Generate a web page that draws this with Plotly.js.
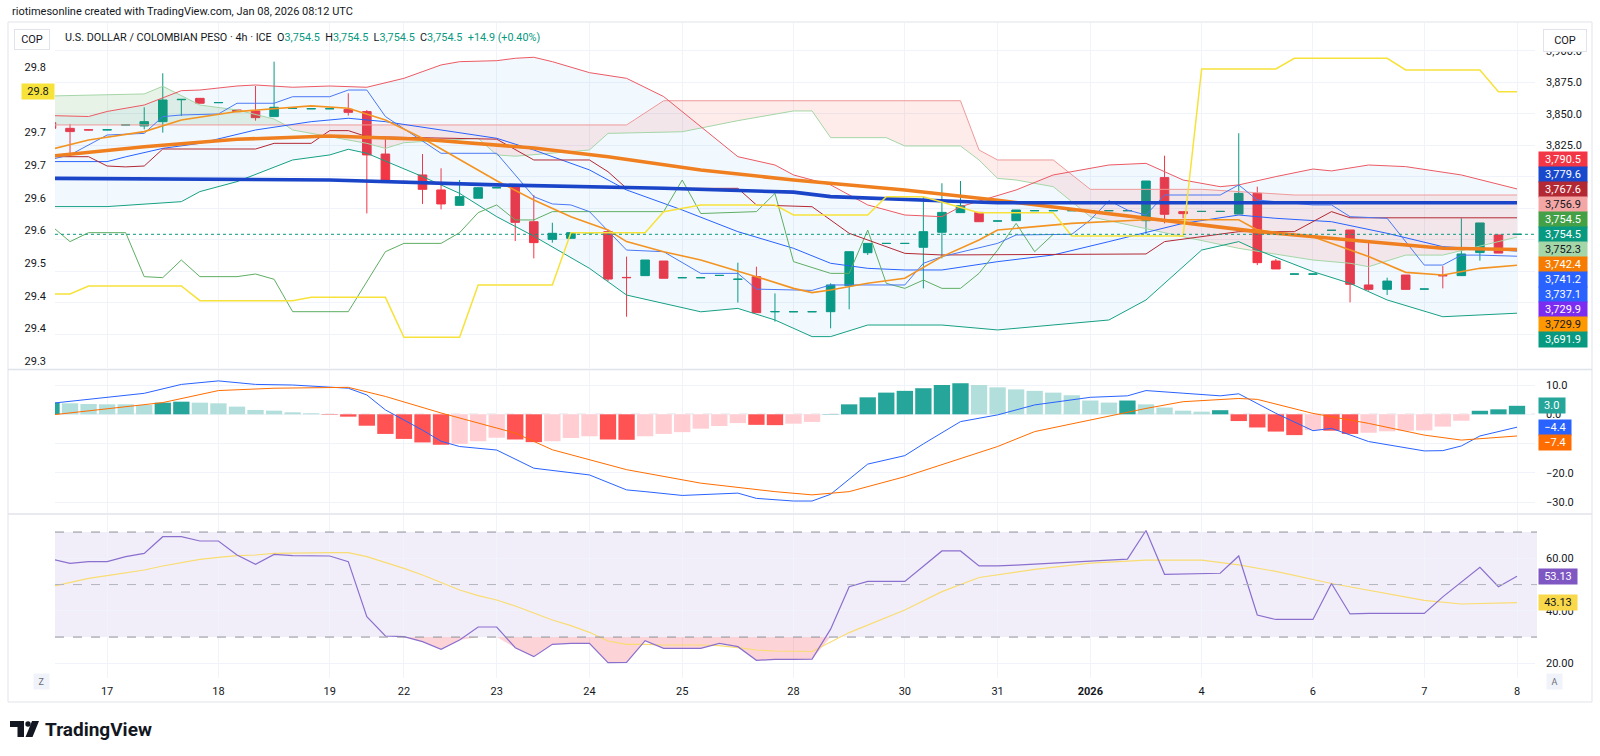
<!DOCTYPE html>
<html><head><meta charset="utf-8">
<script src="https://cdn.plot.ly/plotly-3.0.1.min.js"></script>
<style>html,body{margin:0;padding:0;background:#fff;} #chart{width:1600px;height:756px;}</style>
</head><body><div id="chart"></div>
<script>
// ---------------- DATA ----------------
const openP = [3843.1,3838.6,3837.5,3837.3,3841.2,3840.5,3843.9,3861.3,3862.4,3858.9,
 3853.2,3852.4,3847.9,3854.4,3854.1,3854.1,3853.7,3851.9,3818.2,3796.5,
 3801.6,3789.7,3777.5,3783.1,3791.4,3792.3,3764.5,3750.5,3751.3,3755.7,
 3756.6,3720.3,3721.7,3733.3,3720.0,3720.0,3721.8,3718.7,3720.9,3693.0,
 3693.0,3693.0,3693.1,3713.7,3739.9,3747.2,3747.2,3744.2,3756.1,3771.7,
 3771.9,3765.0,3765.3,3773.2,3773.2,3773.2,3773.2,3773.2,3773.2,3765.3,
 3799.5,3772.5,3772.6,3772.6,3770.6,3787.0,3733.3,3722.9,3722.9,3757.6,
 3757.9,3714.3,3710.8,3722.2,3711.0,3721.8,3721.7,3740.0,3754.0,3754.5];
const highP = [3844.0,3842.1,3837.6,3837.6,3841.5,3855.3,3882.3,3861.8,3862.4,3859.2,
 3853.2,3872.2,3891.5,3854.6,3854.3,3854.3,3866.4,3853.2,3832.0,3797.0,
 3818.2,3806.9,3797.6,3791.5,3791.6,3792.3,3785.7,3763.7,3755.8,3755.9,
 3756.6,3736.8,3734.1,3733.3,3720.2,3720.2,3722.0,3732.0,3728.8,3707.6,
 3693.2,3693.2,3715.6,3740.7,3747.3,3747.4,3747.4,3784.4,3795.0,3796.8,
 3771.9,3765.2,3773.8,3773.4,3773.4,3773.4,3773.4,3773.4,3773.4,3796.8,
 3816.9,3772.5,3772.8,3772.8,3834.7,3792.3,3734.9,3723.1,3723.1,3757.8,
 3757.9,3750.0,3720.1,3722.2,3711.2,3729.3,3767.2,3763.5,3754.0,3754.5];
const lowP = [3838.0,3816.1,3837.2,3837.2,3841.1,3837.8,3835.2,3848.4,3858.5,3858.8,
 3851.9,3844.7,3847.9,3854.3,3854.0,3854.0,3848.7,3771.1,3796.3,3795.8,
 3778.6,3774.3,3777.5,3783.1,3791.3,3749.2,3735.4,3747.9,3751.3,3755.6,
 3717.4,3689.1,3721.7,3719.6,3719.9,3719.9,3721.7,3700.3,3692.3,3685.2,
 3692.9,3692.9,3679.9,3695.0,3738.1,3747.1,3747.1,3711.6,3735.4,3771.7,
 3764.5,3764.9,3765.3,3773.1,3773.1,3773.1,3773.1,3773.1,3773.1,3754.5,
 3763.2,3767.2,3772.5,3772.5,3770.6,3730.1,3727.0,3722.8,3722.8,3757.5,
 3700.5,3709.8,3706.3,3710.8,3710.9,3711.6,3721.7,3733.6,3739.6,3754.5];
const closeP = [3838.6,3836.0,3837.3,3837.5,3841.4,3843.9,3861.1,3861.6,3858.5,3859.1,
 3851.9,3847.1,3855.3,3854.5,3854.2,3854.2,3851.3,3817.5,3796.3,3796.0,
 3790.2,3778.6,3784.4,3791.5,3791.5,3764.0,3747.9,3755.3,3755.8,3755.8,
 3719.0,3720.1,3734.1,3719.6,3720.1,3720.1,3721.9,3718.9,3692.3,3693.2,
 3693.1,3693.1,3714.3,3740.7,3747.3,3747.3,3747.3,3756.6,3771.9,3777.2,
 3764.5,3765.1,3773.8,3773.3,3773.3,3773.3,3773.3,3773.3,3773.3,3796.8,
 3770.4,3770.9,3772.7,3772.7,3787.0,3732.0,3727.0,3723.0,3723.0,3757.7,
 3714.8,3710.8,3717.4,3710.8,3711.1,3721.6,3738.9,3763.5,3739.6,3754.5];

// Moving averages (vertex lists: bar index, value)
const smaSlowX = [0,15,24,33,40,42,49,51,60,79];
const smaSlowY = [3798.9,3797.6,3793.7,3791,3788,3784.4,3780.5,3779.5,3779.5,3779.6];
const smaMidX = [0,5,10,15,20,26,30,35,40,46,51,59,65,70,75,79];
const smaMidY = [3816.6,3824,3829.9,3832.5,3829.9,3823,3816,3805.6,3797.6,3789.7,3781.5,3767.2,3756.6,3750,3743.4,3742.4];
const emaFastX = [0,2,5,7,10,14,16,18,20,24,26,28,30,31,33,35,38,40,41,42,44,46,48,50,51,53,55,59,64,65,68,71,73,75,77,79];
const emaFastY = [3822,3829.4,3836,3845.2,3851.9,3856.4,3854.5,3845.2,3830.7,3797,3781.7,3768.5,3757.9,3748.7,3740.7,3734.1,3720.9,3711.6,3708.2,3710.3,3715.6,3719.6,3736.8,3750,3757.9,3760.5,3763.2,3766,3766,3758,3752.6,3736.8,3724.3,3722.2,3727.5,3729.9];

// Bollinger bands
const bbUpX = [0,2,3,5,7,8,10,11,13,15,17,19,21,22,24,25,26,27,29,31,33,35,37,39,40,42,44,46,48,49,51,52,54,57,59,61,63,64,66,68,69,71,73,76,79];
const bbUpY = [3848.7,3848,3852,3857.1,3868.5,3869,3872.2,3873,3871.2,3872.2,3871.2,3878.3,3888.9,3891.5,3892.3,3894.2,3895,3891.5,3882.8,3878.3,3863.8,3839.9,3816.1,3809.5,3801.6,3793.7,3777.8,3769.8,3768.5,3776.4,3785,3789.7,3801.6,3809.5,3810.8,3797.6,3792.3,3793.7,3800.3,3806.3,3804.8,3809.5,3808.2,3801.6,3790.5];
const bbLoX = [0,3,7,8,10,13,15,16,17,20,22,24,26,29,31,35,37,39,41,42,44,48,51,57,59,62,64,65,68,70,72,75,79];
const bbLoY = [3776.5,3776.5,3780.4,3788.4,3796.3,3813.5,3817.5,3822,3818.8,3800.3,3787,3768.5,3753,3727.5,3706.3,3693,3695.7,3686.5,3673.3,3673.3,3682.5,3682.5,3678.6,3686.5,3702.4,3742,3748.7,3742,3724.9,3715.6,3702.4,3689.1,3691.9];
const bbMidX = [0,3,4,6,8,11,14,16,18,24,26,29,31,34,37,40,42,44,46,48,51,54,57,61,64,66,69,72,75,79];
const bbMidY = [3812.2,3812.2,3816,3822.7,3826.7,3837.3,3843.9,3846.6,3843.9,3830.7,3821.4,3805.6,3789.7,3773.8,3756.6,3743.4,3731.5,3727.5,3726.2,3726.2,3732.8,3738.1,3748.7,3763.2,3769.8,3767.2,3764.5,3755.3,3744.7,3741.2];

// Ichimoku
const convX = [0,1,3,5,6,7,9,10,12,13,15,16,17,18,21,24,26,27,28,29,31,33,35,37,38,41,42,46,47,48,51,52,55,56,57,58,59,60,63,64,65,68,69,70,72,74,75,76,77,79];
const convY = [3814,3817.5,3833.3,3834.6,3847.9,3849.2,3850,3858.5,3858.5,3863.7,3863.7,3869,3869,3848,3818.8,3818.8,3784.4,3778.6,3777.8,3772.5,3742,3740.7,3723.5,3723.5,3711,3710,3714.3,3714.3,3731.5,3736.8,3747.3,3754,3754.5,3765.9,3781.2,3773.8,3769.8,3785.7,3785.7,3793.7,3781.7,3777.8,3777.8,3768.5,3767.2,3730.1,3730.1,3738,3738,3737.1];
const baseX = [0,2,3,4,5,6,11,12,14,15,16,17,24,26,29,30,31,37,38,41,43,46,48,59,60,64,67,69,70,79];
const baseY = [3816.1,3816.1,3808.7,3808,3808.7,3822.2,3822.2,3826.7,3826.7,3836.8,3836.8,3832,3830,3813.5,3813.5,3804.2,3791,3791,3777.8,3776.4,3755.3,3739.4,3738.1,3738.9,3748.7,3756.6,3756.6,3772.5,3767.6,3767.6];
const lagX = [0,1,2,4,5,6,7,8,10,11,12,13,16,18,19,21,22,23,24,25,26,27,33,34,35,38,39,40,42,43,44,45,46,47,48,49,50,51,52,53,54];
const lagY = [3761.1,3748.7,3755.8,3755.8,3720.9,3720.1,3734.1,3720.9,3720.9,3723,3718.8,3693.1,3693.1,3740.7,3747.3,3747.3,3755.8,3771.7,3777.8,3765.9,3765.9,3772.5,3772.5,3797.6,3771,3772.5,3787,3732.8,3723.5,3723.5,3757.9,3715.6,3711.6,3718.2,3711.6,3711.6,3723.5,3742,3763.2,3740.7,3754.5];
const spanAX = [0,5,6,8,10,12,12.6,13,15,17,18,19,23,24,25,29,30,34,37,40,41,42,45,46,49,50,51,52,54,56,61,64,68,70,71,73,75,77,79];
const spanAY = [3864.3,3865.9,3872,3857.1,3853.2,3846,3841.3,3837.3,3832,3826.7,3822.7,3827.2,3830.7,3817.5,3816.5,3821.4,3834.6,3835.9,3844.7,3852.4,3852.4,3831.2,3831.2,3824.6,3824.6,3813.5,3798.9,3797.6,3792.3,3768.5,3752.6,3743.4,3734.1,3731.5,3728.8,3738,3738,3745,3752.3];
const spanBX = [0,12.6,31,33,49,50,51,54,56,62,67,79];
const spanBY = [3841.3,3841.3,3841.3,3860.5,3860.5,3821.4,3813.5,3813.5,3790.2,3790.2,3785.7,3785.7];
const cloudSwitchAt = 12.6;

// Overlay symbol on the left scale (yellow)
const ovlX = [0,1,2,7,8,13,14,18,19,22,23,27,28,32,33,35,39,40,44,45,47,50,54,55,61,62,66,67,72,73,77,78,79];
const ovlY = [29.4527,29.4527,29.4649,29.4649,29.4424,29.4424,29.4476,29.4476,29.3863,29.3863,29.4665,29.4665,29.5466,29.5466,29.5788,29.589,29.589,29.5737,29.5737,29.6018,29.6018,29.5772,29.5772,29.5415,29.5415,29.7974,29.7974,29.8138,29.8138,29.7959,29.7959,29.7626,29.7626];

// MACD
const macdHist = [3.97,3.75,3.52,3.41,3.41,3.19,3.97,4.31,3.97,3.75,
 2.62,1.48,1.25,0.68,0.34,-0.15,-0.81,-3.9,-6.7,-8.4,
 -9.6,-10.4,-10.1,-9.2,-8.0,-8.6,-9.5,-9.2,-8.1,-7.5,
 -8.6,-8.7,-7.5,-6.7,-6.1,-4.9,-4.0,-3.0,-3.6,-3.7,
 -3.2,-2.6,0.1,3.4,5.8,7.4,8.0,8.9,10.0,10.6,
 10.0,9.2,8.5,8.0,7.4,6.5,4.7,4.0,4.7,3.4,
 2.3,1.25,0.9,1.4,-2.3,-4.5,-5.9,-7.1,-5.4,-5.6,
 -6.7,-6.3,-5.8,-5.6,-5.5,-4.2,-2.2,1.2,1.7,2.9];
const macdX = [0,5,7,9,11,13,16,17,18,20,21,22,24,26,29,31,32,34,37,38,40,41,42,44,46,47,49,51,53,55,56,58,59,61,63,64,66,68,69,71,74,75,76,77,78,79];
const macdY = [3.75,7.16,10.2,11.4,10.2,10.0,8.9,6.6,1.5,-5.4,-9.2,-11.0,-12.2,-18.4,-20.7,-25.8,-26.4,-27.7,-26.9,-28.7,-29.6,-29.6,-27.3,-17,-14.1,-10.1,-2.5,-0.2,3.2,5.1,5.8,6.3,8.1,7.2,6.3,7.0,0.34,-5.6,-4.8,-9.3,-12.5,-12.4,-10.8,-7.4,-5.9,-4.4];
const sigX = [0,6,9,12,16,18,21,25,27,31,35,39,41,43,46,49,51,53,56,59,61,64,65,68,71,74,76,78,79];
const sigY = [-0.23,4.0,8.1,8.9,9.2,6.1,0.45,-6.4,-12.1,-18.9,-23.5,-26.4,-27.5,-26.4,-21.3,-15.0,-11.0,-5.9,-1.9,2.0,4.3,5.4,5.1,0.3,-3.1,-7.1,-8.8,-7.9,-7.4];

// RSI
const rsiX = [0,1,2,3,4,5,6,7,8,9,10,11,12,13,15,16,17,18,19,20,21,22,23,24,25,26,27,28,29,30,31,32,33,35,36,37,38,39,40,41,42,43,44,46,47,48,49,50,51,52,58,59,60,63,64,65,66,68,69,70,71,74,75,77,78,79];
const rsiY = [59.73,58.08,58.72,58.72,60.62,61.89,68.24,68.24,66.59,66.59,61.26,57.7,61.51,61.0,60.88,58.72,37.76,30.4,30.14,28.24,25.32,28.88,33.83,33.83,25.95,22.53,27.23,27.61,27.61,20.24,20.37,28.62,25.7,25.7,27.61,26.34,21.13,21.51,21.5,21.6,33,49.2,51.2,51.2,57,62.8,62.8,57.1,57.1,57.4,59.7,70.6,53.9,54.3,60.9,38.4,36.7,36.7,50.4,38.8,39,39,45.3,56.6,49.2,53.13];
const rsiMaX = [0,2,3,5,6,7,8,9,10,11,12,15,16,17,18,19,20,21,22,23,24,25,26,27,28,29,30,31,32,33,35,36,37,38,39,41,43,46,48,50,53,56,59,62,64,66,69,72,74,76,78,79];
const rsiMaY = [49.19,52.37,53.38,55.54,57.07,58.46,59.61,60.37,61.0,61.26,61.89,62.14,62.14,60.62,58.46,56.18,53.64,50.72,47.92,45.76,44.11,41.83,39.04,36.5,34.34,31.8,28.5,27.23,27.23,26.97,26.97,26.72,25.95,25.07,24.69,24.5,31.7,40.3,47.3,52.7,55.8,58.2,59.3,59.3,57.5,55,50.4,46.5,44,42.6,42.8,43.13];

// Axis ticks & labels (labels hidden behind value badges in the original are left empty)
const timeTickIdx = [3,9,15,19,24,29,34,40,46,51,56,62,68,74,79];
const timeTickText = ['17','18','19','22','23','24','25','28','30','31','<b>2026</b>','4','6','7','8'];
const priceTicks = [3675,3700,3725,3750,3775,3800,3825,3850,3875,3900];
const priceTickText = ['','','','','','','3,825.0','3,850.0','3,875.0','3,900.0'];
const leftTicks = [29.80,29.75,29.70,29.65,29.60,29.55,29.50,29.45,29.40,29.35];
const leftTickText = ['29.8','','29.7','29.7','29.6','29.6','29.5','29.4','29.4','29.3'];
const macdTicks = [10,0,-10,-20,-30];
const macdTickText = ['10.0','0.0','','\u221220.0','\u221230.0'];
const rsiTicks = [60,40,20];
const rsiTickText = ['60.00','40.00','20.00'];

// Last value labels
const mainBadgeVals = [3790.5,3779.6,3767.6,3756.9,3754.5,3754.5,3752.3,3742.4,3741.2,3737.1,3729.9,3729.9,3691.9];
const mainBadgeBg = ['#f23645','#1848cc','#b22833','#f4a6a4','#43a047','#089981','#a5d6a7','#f57c00','#2962ff','#2962ff','#7b2cf0','#ff9800','#089981'];
const mainBadgeFg = ['#fff','#fff','#fff','#131722','#fff','#fff','#131722','#fff','#fff','#fff','#fff','#131722','#fff'];
const macdBadgeVals = [3.0,-4.4,-7.4];
const macdBadgeBg = ['#26a69a','#2962ff','#ff6d00'];
const rsiBadgeVals = [53.13,43.13];
const rsiBadgeBg = ['#7e57c2','#f9d84a'];
const rsiBadgeFg = ['#fff','#131722'];
const ovlBadgeText = '29.8';

// ---------------- LAYOUT GEOMETRY ----------------
const W = 1600, H = 756;
const px = x => x / W, py = y => 1 - y / H;
const PLOT_L = 55, PLOT_R = 1535;
const MAIN_T = 23, MAIN_B = 368, MACD_T = 370, MACD_B = 513, RSI_T = 515, RSI_B = 678;
const mainRange = [3648.4, 3922.2];
const leftRange = [29.3393, 29.8679];
const macdRange = [-33.69, 15.12];
const rsiRange = [14.40, 76.50];
const xRange = [0.19, 79.97];
const FONT = 'Roboto, "Noto Sans", sans-serif';
const TXT = '#131722';

const bars = openP.map((_, i) => i);
const fmtPrice = v => v.toLocaleString('en-US', {minimumFractionDigits: 1, maximumFractionDigits: 1});

function valToPix(v, range, top, bot) { return top + (range[1] - v) / (range[1] - range[0]) * (bot - top); }

const traces = [];
// BB band fill
traces.push({x: bbUpX.concat(bbLoX.slice().reverse()), y: bbUpY.concat(bbLoY.slice().reverse()),
  type: 'scatter', mode: 'lines', fill: 'toself', fillcolor: 'rgba(33,150,243,0.06)', line: {width: 0}, xaxis: 'x', yaxis: 'y', hoverinfo: 'skip'});
// Cloud fills
function cloudPoly(keep) {
  const ax = [], ay = [], bx = [], by = [];
  spanAX.forEach((x, i) => { if (keep(x)) { ax.push(x); ay.push(spanAY[i]); } });
  spanBX.forEach((x, i) => { if (keep(x)) { bx.push(x); by.push(spanBY[i]); } });
  return {x: ax.concat(bx.reverse()), y: ay.concat(by.reverse())};
}
const g = cloudPoly(x => x <= cloudSwitchAt), r = cloudPoly(x => x >= cloudSwitchAt);
traces.push({x: g.x, y: g.y, type: 'scatter', mode: 'lines', fill: 'toself', fillcolor: 'rgba(67,160,71,0.13)', line: {width: 0}, xaxis: 'x', yaxis: 'y', hoverinfo: 'skip'});
traces.push({x: r.x, y: r.y, type: 'scatter', mode: 'lines', fill: 'toself', fillcolor: 'rgba(244,67,54,0.10)', line: {width: 0}, xaxis: 'x', yaxis: 'y', hoverinfo: 'skip'});

// Candles
traces.push({type: 'candlestick', x: bars, open: openP, high: highP, low: lowP, close: closeP, xaxis: 'x', yaxis: 'y',
  increasing: {line: {color: '#089981', width: 1}, fillcolor: '#089981'},
  decreasing: {line: {color: '#f23645', width: 1}, fillcolor: '#f23645'}, whiskerwidth: 0, hoverinfo: 'skip'});

function line(x, y, color, width, ax, extra) {
  return Object.assign({x, y, type: 'scatter', mode: 'lines', line: {color, width}, xaxis: ax || 'x', yaxis: extra && extra.yaxis || 'y', hoverinfo: 'skip'}, extra || {});
}
traces.push(line(spanAX, spanAY, '#a5d6a7', 1));
traces.push(line(spanBX, spanBY, '#ef9a9a', 1));
traces.push(line(bbUpX, bbUpY, '#ec5a64', 1));
traces.push(line(bbLoX, bbLoY, '#16a085', 1));
traces.push(line(bbMidX, bbMidY, '#2962ff', 1));
traces.push(line(lagX, lagY, '#5fae63', 1));
traces.push(line(baseX, baseY, '#b22833', 1));
traces.push(line(convX, convY, '#4a78f5', 1));
traces.push(line(ovlX, ovlY, '#f7e23a', 1.5, 'x', {yaxis: 'y2'}));
traces.push(line(emaFastX, emaFastY, '#f39422', 1.6));
traces.push(line(smaMidX, smaMidY, '#f07f1f', 3.6));
traces.push(line(smaSlowX, smaSlowY, '#1a45c9', 3.6));

// MACD histogram colors from data
const histColors = macdHist.map((v, i) => {
  const prev = i > 0 ? macdHist[i - 1] : -Infinity;
  if (v >= 0) return v > prev ? '#26a69a' : '#b2dfdb';
  return v > prev ? '#ffcdd2' : '#ff5252';
});
traces.push({type: 'bar', x: bars, y: macdHist, marker: {color: histColors, line: {width: 0}}, width: 0.88, xaxis: 'x2', yaxis: 'y3', hoverinfo: 'skip'});
traces.push(line(macdX, macdY, '#2962ff', 1, 'x2', {yaxis: 'y3'}));
traces.push(line(sigX, sigY, '#ff6d00', 1, 'x2', {yaxis: 'y3'}));

// RSI oversold fill + lines
traces.push(line(rsiX, rsiX.map(() => 30), 'rgba(0,0,0,0)', 0, 'x3', {yaxis: 'y4'}));
traces.push(line(rsiX, rsiY.map(v => Math.min(v, 30)), 'rgba(0,0,0,0)', 0, 'x3', {yaxis: 'y4', fill: 'tonexty', fillcolor: 'rgba(242,54,69,0.22)'}));
traces.push(line(rsiMaX, rsiMaY, '#f9dc72', 1.2, 'x3', {yaxis: 'y4'}));
traces.push(line(rsiX, rsiY, '#8a6fcf', 1.2, 'x3', {yaxis: 'y4'}));

// ---------------- AXES ----------------
const gridC = '#f0f3fa';
const xBase = {range: xRange, domain: [px(PLOT_L), px(PLOT_R)], tickmode: 'array', tickvals: timeTickIdx, ticktext: timeTickText,
  showgrid: true, gridcolor: gridC, zeroline: false, showline: false, ticks: '', fixedrange: true};
const layout = {
  width: W, height: H, margin: {l: 0, r: 0, t: 0, b: 0}, paper_bgcolor: '#fff', plot_bgcolor: 'rgba(0,0,0,0)',
  showlegend: false, hovermode: false, boxgap: 0.34, bargap: 0.1,
  font: {family: FONT, size: 11, color: TXT},
  xaxis: Object.assign({}, xBase, {anchor: 'y', showticklabels: false, rangeslider: {visible: false}}),
  xaxis2: Object.assign({}, xBase, {anchor: 'y3', matches: 'x', showticklabels: false}),
  xaxis3: Object.assign({}, xBase, {anchor: 'y4', matches: 'x', showticklabels: true, tickfont: {family: FONT, size: 11, color: TXT}, ticklabelstandoff: 5}),
  yaxis: {domain: [py(MAIN_B), py(MAIN_T)], range: mainRange, side: 'right', anchor: 'x', tickmode: 'array', tickvals: priceTicks,
    ticktext: priceTickText, showgrid: true, gridcolor: gridC, zeroline: false, ticks: '', ticklabelstandoff: 10, fixedrange: true},
  yaxis2: {overlaying: 'y', side: 'left', anchor: 'x', range: leftRange, tickmode: 'array', tickvals: leftTicks, ticktext: leftTickText,
    showgrid: false, zeroline: false, ticks: '', ticklabelstandoff: 8, fixedrange: true},
  yaxis3: {domain: [py(MACD_B), py(MACD_T)], range: macdRange, side: 'right', anchor: 'x2', tickmode: 'array', tickvals: macdTicks,
    ticktext: macdTickText, showgrid: true, gridcolor: gridC, zeroline: false, ticks: '', ticklabelstandoff: 10, fixedrange: true},
  yaxis4: {domain: [py(RSI_B), py(RSI_T)], range: rsiRange, side: 'right', anchor: 'x3', tickmode: 'array', tickvals: rsiTicks,
    ticktext: rsiTickText, showgrid: true, gridcolor: gridC, zeroline: false, ticks: '', ticklabelstandoff: 10, fixedrange: true},
  shapes: [], annotations: []
};

// ---------------- SHAPES ----------------
const S = layout.shapes;
S.push({type: 'rect', xref: 'paper', yref: 'paper', x0: px(8), x1: px(1592), y0: py(702), y1: py(22), line: {color: '#e0e3eb', width: 1}, layer: 'below'});
S.push({type: 'line', xref: 'paper', yref: 'paper', x0: px(8), x1: px(1592), y0: py(369.5), y1: py(369.5), line: {color: '#e0e3eb', width: 1.5}});
S.push({type: 'line', xref: 'paper', yref: 'paper', x0: px(8), x1: px(1592), y0: py(514), y1: py(514), line: {color: '#e0e3eb', width: 1.5}});
S.push({type: 'line', xref: 'paper', yref: 'y', x0: px(PLOT_L), x1: px(PLOT_R), y0: closeP[closeP.length - 1], y1: closeP[closeP.length - 1], line: {color: '#089981', width: 1, dash: 'dot'}});
S.push({type: 'line', xref: 'paper', yref: 'y3', x0: px(PLOT_L), x1: px(PLOT_R), y0: 0, y1: 0, line: {color: '#b2b5be', width: 1, dash: 'dash'}, layer: 'below'});
S.push({type: 'rect', xref: 'paper', yref: 'y4', x0: px(PLOT_L), x1: px(1537), y0: 30, y1: 70, fillcolor: 'rgba(126,87,194,0.10)', line: {width: 0}, layer: 'below'});
[70, 50, 30].forEach(lv => S.push({type: 'line', xref: 'paper', yref: 'y4', x0: px(PLOT_L), x1: px(1537), y0: lv, y1: lv,
  line: {color: lv === 50 ? '#b2b5be' : '#8d909a', width: 1, dash: 'dash'}}));
function pathPx(pts) { return 'M' + pts.map(p => px(p[0]) + ',' + py(p[1])).join(' L') + ' Z'; }
S.push({type: 'path', xref: 'paper', yref: 'paper', path: pathPx([[10,721],[24,721],[24,737],[17.5,737],[17.5,727],[10,727]]), fillcolor: '#131722', line: {width: 0}});
S.push({type: 'circle', xref: 'paper', yref: 'paper', x0: px(25.3), x1: px(30.7), y0: py(726.7), y1: py(721.3), fillcolor: '#131722', line: {width: 0}});
S.push({type: 'path', xref: 'paper', yref: 'paper', path: pathPx([[32,721],[39,721],[32.5,737],[25.5,737]]), fillcolor: '#131722', line: {width: 0}});

// ---------------- ANNOTATIONS ----------------
const A = layout.annotations;
A.push({xref: 'paper', yref: 'paper', x: px(10), y: py(12), xanchor: 'left', yanchor: 'middle', showarrow: false,
  text: 'riotimesonline created with TradingView.com, Jan 08, 2026 08:12 UTC', font: {family: FONT, size: 11, color: TXT}});
const teal = s => '<span style="color:#089981">' + s + '</span>';
const nb = '\u00a0\u00a0';
A.push({xref: 'paper', yref: 'paper', x: px(63), y: py(38), xanchor: 'left', yanchor: 'middle', showarrow: false,
  text: 'U.S. DOLLAR / COLOMBIAN PESO \u00b7 4h \u00b7 ICE' + nb + 'O' + teal(fmtPrice(openP[79])) + nb + 'H' + teal(fmtPrice(highP[79])) + nb +
    'L' + teal(fmtPrice(lowP[79])) + nb + 'C' + teal(fmtPrice(closeP[79])) + nb + teal('+14.9 (+0.40%)'),
  font: {family: FONT, size: 10.8, color: TXT}});
A.push({xref: 'paper', yref: 'paper', x: px(31.5), y: py(39), xanchor: 'center', yanchor: 'middle', showarrow: false, text: 'COP',
  width: 30, height: 15, bgcolor: '#fff', bordercolor: '#e0e3eb', borderwidth: 1, borderpad: 2, font: {family: FONT, size: 11, color: TXT}});
A.push({xref: 'paper', yref: 'paper', x: px(1564.5), y: py(40), xanchor: 'center', yanchor: 'middle', showarrow: false, text: 'COP',
  width: 38, height: 17, bgcolor: '#fff', bordercolor: '#e0e3eb', borderwidth: 1, borderpad: 2, font: {family: FONT, size: 11, color: TXT}});

// Main badges (stacked around the current price label)
const anchorK = 5;
const anchorPix = valToPix(mainBadgeVals[anchorK], mainRange, MAIN_T, MAIN_B);
mainBadgeVals.forEach((v, k) => {
  const yp = anchorPix + (k - anchorK) * 15;
  A.push({xref: 'paper', yref: 'paper', x: px(1538), y: py(yp), xanchor: 'left', yanchor: 'middle', showarrow: false,
    text: fmtPrice(v), width: 46, height: 13, borderpad: 1, bgcolor: mainBadgeBg[k], font: {family: FONT, size: 11, color: mainBadgeFg[k]}});
});
// MACD badges
let prevPix = -1e9;
macdBadgeVals.forEach((v, k) => {
  let yp = valToPix(v, macdRange, MACD_T, MACD_B);
  yp = Math.max(yp, prevPix + 15); prevPix = yp;
  const t = (v < 0 ? '\u2212' : '') + Math.abs(v).toFixed(1);
  A.push({xref: 'paper', yref: 'paper', x: px(1538), y: py(yp), xanchor: 'left', yanchor: 'middle', showarrow: false,
    text: t, width: t.length * 6.5 + 4, height: 13, borderpad: 1, bgcolor: macdBadgeBg[k], font: {family: FONT, size: 11, color: '#fff'}});
});
// RSI badges
rsiBadgeVals.forEach((v, k) => {
  const yp = valToPix(v, rsiRange, RSI_T, RSI_B);
  A.push({xref: 'paper', yref: 'paper', x: px(1538), y: py(yp), xanchor: 'left', yanchor: 'middle', showarrow: false,
    text: v.toFixed(2), width: 36, height: 13, borderpad: 1, bgcolor: rsiBadgeBg[k], font: {family: FONT, size: 11, color: rsiBadgeFg[k]}});
});
// Left overlay badge
A.push({xref: 'paper', yref: 'y2', x: px(21), y: ovlY[ovlY.length - 1], xanchor: 'left', yanchor: 'middle', showarrow: false,
  text: ovlBadgeText, width: 30, height: 13, borderpad: 1, bgcolor: '#f7e23a', font: {family: FONT, size: 11, color: TXT}});
// Z / A buttons
A.push({xref: 'paper', yref: 'paper', x: px(33), y: py(690), showarrow: false, text: 'Z', width: 13, height: 13, bgcolor: '#f0f3fa', borderpad: 1, font: {family: FONT, size: 9, color: '#6a6d78'}});
A.push({xref: 'paper', yref: 'paper', x: px(1563), y: py(690), showarrow: false, text: 'A', width: 13, height: 13, bgcolor: '#f0f3fa', borderpad: 1, font: {family: FONT, size: 9, color: '#6a6d78'}});
// Footer brand
A.push({xref: 'paper', yref: 'paper', x: px(43), y: py(729.5), xanchor: 'left', yanchor: 'middle', showarrow: false,
  text: '<b>TradingView</b>', font: {family: FONT, size: 19, color: TXT}});

Plotly.newPlot('chart', traces, layout, {staticPlot: true, displayModeBar: false});
</script></body></html>
